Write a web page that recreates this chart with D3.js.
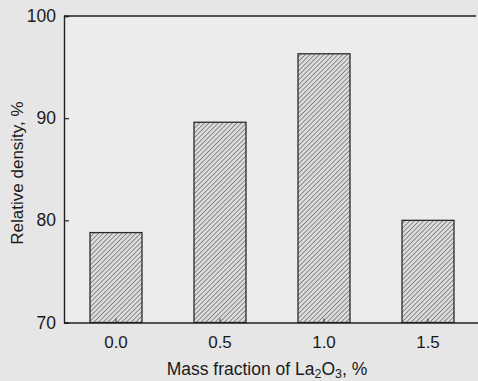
<!DOCTYPE html>
<html><head><meta charset="utf-8">
<script src="https://cdn.jsdelivr.net/npm/d3@7"></script>
<style>
html,body{margin:0;padding:0;background:#e8e8e8;}
svg{display:block;font-family:"Liberation Sans",Arial,sans-serif;}
</style></head>
<body>
<svg id="c" width="478" height="381"></svg>
<script>
const categories = ["0.0", "0.5", "1.0", "1.5"];
const values = [78.8, 89.6, 96.3, 80.0];
const yTicks = [70, 80, 90, 100];

(function () {
const svg = d3.select("#c");
const mLeft = 64, mRight = 480, mTop = 16, mBottom = 322.5;

svg.append("rect").attr("width", 478).attr("height", 381).attr("fill", "#e6e6e6");
svg.append("rect").attr("x", mLeft).attr("y", mTop).attr("width", 478 - mLeft).attr("height", mBottom - mTop).attr("fill", "#ececec");

const defs = svg.append("defs");
const pat = defs.append("pattern").attr("id", "hatch").attr("patternUnits", "userSpaceOnUse")
  .attr("width", 3.3).attr("height", 3.3).attr("patternTransform", "rotate(45)");
pat.append("rect").attr("width", 3.3).attr("height", 3.3).attr("fill", "#dcdcdc");
pat.append("line").attr("x1", 0).attr("y1", 0).attr("x2", 0).attr("y2", 3.3)
  .attr("stroke", "#4a4a4a").attr("stroke-width", 1.1);

const x = d3.scaleBand().domain(categories).range([mLeft, mRight]).paddingInner(0.5).paddingOuter(0.25);
const y = d3.scaleLinear().domain([70, 100]).range([mBottom, mTop]);

svg.selectAll("rect.bar").data(values).join("rect").attr("class", "bar")
  .attr("x", (d, i) => x(categories[i]))
  .attr("y", d => y(d))
  .attr("width", x.bandwidth())
  .attr("height", d => y(70) - y(d))
  .attr("fill", "url(#hatch)")
  .attr("stroke", "#2a2a2a").attr("stroke-width", 1.3);

const yAxis = d3.axisLeft(y).tickValues(yTicks).tickSize(-5).tickPadding(8).tickFormat(d3.format("d"));
const gy = svg.append("g").attr("transform", `translate(${mLeft},0)`).call(yAxis);
gy.select(".domain").attr("stroke", "#222").attr("stroke-width", 1.4);
gy.selectAll(".tick line").attr("stroke", "#222").attr("stroke-width", 1.2);
gy.selectAll(".tick text").attr("font-size", 17.5).attr("fill", "#1a1a1a").attr("font-family", "Liberation Sans, Arial, sans-serif");

const xAxis = d3.axisBottom(x).tickSize(-4).tickPadding(13).tickSizeOuter(0);
const gx = svg.append("g").attr("transform", `translate(0,${mBottom})`).call(xAxis);
gx.select(".domain").attr("stroke", "#222").attr("stroke-width", 1.4);
gx.selectAll(".tick line").attr("stroke", "#333").attr("stroke-width", 1);
gx.selectAll(".tick text").attr("font-size", 17).attr("fill", "#1a1a1a").attr("font-family", "Liberation Sans, Arial, sans-serif");

svg.append("line").attr("x1", mLeft).attr("x2", 476).attr("y1", mTop).attr("y2", mTop)
  .attr("stroke", "#222").attr("stroke-width", 1.4);

const xt = svg.append("text").attr("x", 267).attr("y", 375).attr("text-anchor", "middle")
  .attr("font-size", 17.5).attr("fill", "#1a1a1a");
xt.append("tspan").text("Mass fraction of La");
xt.append("tspan").attr("font-size", 12.5).attr("dy", 3).text("2");
xt.append("tspan").attr("dy", -3).text("O");
xt.append("tspan").attr("font-size", 12.5).attr("dy", 3).text("3");
xt.append("tspan").attr("dy", -3).text(", %");

svg.append("text").attr("transform", "translate(23,173) rotate(-90)").attr("text-anchor", "middle")
  .attr("font-size", 17).attr("fill", "#1a1a1a").text("Relative density, %");
})();
</script>
</body></html>
